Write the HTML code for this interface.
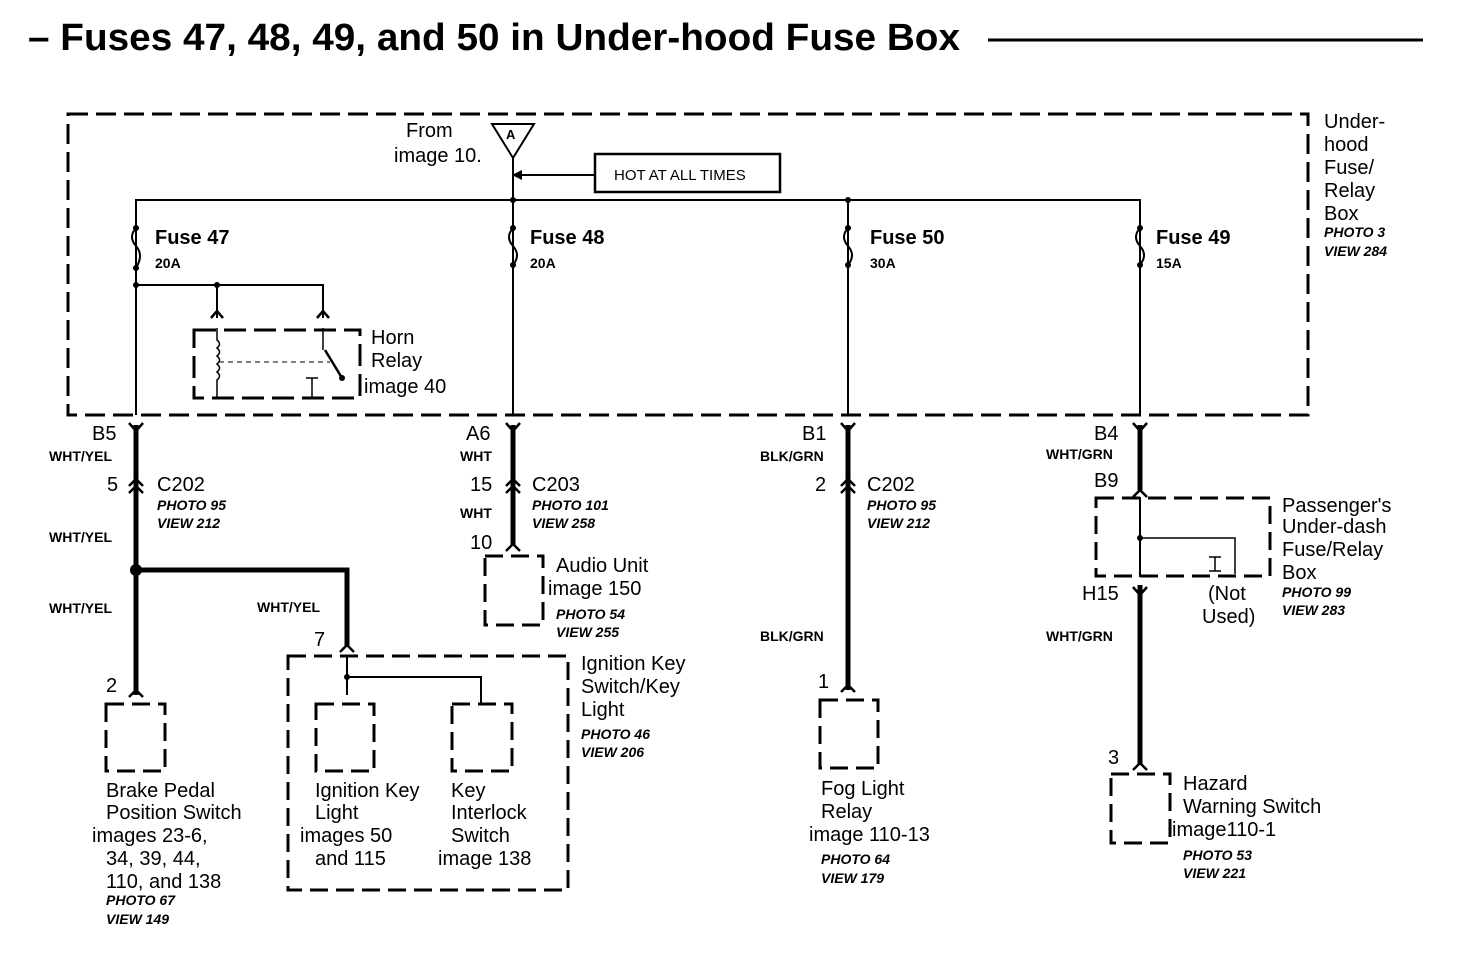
<!DOCTYPE html>
<html><head><meta charset="utf-8"><style>
html,body{margin:0;padding:0;background:#fff;}
svg{display:block;font-family:"Liberation Sans",sans-serif;}
.t{font-size:20px;fill:#000;}
.b{font-size:14px;font-weight:bold;fill:#000;}
.i{font-size:14px;font-weight:bold;font-style:italic;fill:#000;}
.fu{font-size:20px;font-weight:bold;fill:#000;}
</style></head><body>
<svg width="1472" height="956" viewBox="0 0 1472 956" xmlns="http://www.w3.org/2000/svg">
<text x="28" y="50" textLength="932" lengthAdjust="spacingAndGlyphs" style="font-size:38px;font-weight:bold">– Fuses 47, 48, 49, and 50 in Under-hood Fuse Box</text>
<line x1="988" y1="40" x2="1423" y2="40" stroke="#000" stroke-width="3"/>

<g fill="none" stroke="#000">
<rect x="68" y="114" width="1240" height="301" stroke-width="3" stroke-dasharray="20 8"/>
<polyline points="136,415 136,200 1140,200 1140,415" stroke-width="2"/>
<line x1="513" y1="158" x2="513" y2="415" stroke-width="2"/>
<line x1="848" y1="200" x2="848" y2="415" stroke-width="2"/>
<polygon points="492,124 534,124 513,158" stroke-width="2"/>
<line x1="595" y1="175" x2="522" y2="175" stroke-width="2"/>
<rect x="595" y="154" width="185" height="38" stroke-width="2.5"/>
<polyline points="136,285 323,285 323,318" stroke-width="2"/>
<line x1="217" y1="285" x2="217" y2="318" stroke-width="2"/>
<rect x="194" y="330" width="166" height="68" stroke-width="3" stroke-dasharray="22 8"/>
<path d="M217,328 v12 q5,4 0,8 q5,4 0,8 q5,4 0,8 q5,4 0,8 q5,4 0,8 v18" stroke-width="1.5"/>
<line x1="219" y1="362" x2="330" y2="362" stroke-width="1" stroke-dasharray="5 4"/>
<line x1="325" y1="350" x2="342" y2="378" stroke-width="2.5"/>
<line x1="312" y1="378" x2="312" y2="398" stroke-width="1.5"/>
<line x1="306" y1="378" x2="318" y2="378" stroke-width="1.5"/>
<line x1="323" y1="328" x2="323" y2="350" stroke-width="1.5"/>
<g stroke-width="5">
<line x1="136" y1="425" x2="136" y2="695"/>
<polyline points="136,570 347,570 347,647"/>
<line x1="513" y1="425" x2="513" y2="545"/>
<line x1="848" y1="425" x2="848" y2="690"/>
<line x1="1140" y1="425" x2="1140" y2="490"/>
<line x1="1140" y1="585" x2="1140" y2="765"/>
</g>
<g stroke-width="2.5">
<path d="M129,423 L136,431 L143,423"/><path d="M506,423 L513,431 L520,423"/>
<path d="M841,423 L848,431 L855,423"/><path d="M1133,423 L1140,431 L1147,423"/>
<path d="M1133,587 L1140,595 L1147,587"/>
<path d="M129,486 L136,479 L143,486"/><path d="M129,493 L136,486 L143,493"/>
<path d="M506,486 L513,479 L520,486"/><path d="M506,493 L513,486 L520,493"/>
<path d="M841,486 L848,479 L855,486"/><path d="M841,493 L848,486 L855,493"/>
<path d="M129,697 L136,690 L143,697"/><path d="M506,551 L513,544 L520,551"/>
<path d="M340,652 L347,645 L354,652"/><path d="M841,692 L848,685 L855,692"/>
<path d="M1133,770 L1140,763 L1147,770"/><path d="M1133,497 L1140,490 L1147,497"/>
<path d="M211,318 L217,311 L223,318"/><path d="M317,318 L323,311 L329,318"/>
</g>
<g stroke-width="3" stroke-dasharray="18 8">
<rect x="106" y="704" width="59" height="67"/>
<rect x="485" y="556" width="58" height="69"/>
<rect x="288" y="656" width="280" height="234"/>
<rect x="316" y="704" width="58" height="67"/>
<rect x="452" y="704" width="60" height="67"/>
<rect x="820" y="700" width="58" height="68"/>
<rect x="1111" y="774" width="59" height="69"/>
<rect x="1096" y="498" width="174" height="78"/>
</g>
<line x1="347" y1="656" x2="347" y2="695" stroke-width="2"/>
<polyline points="347,677 481,677 481,704" stroke-width="2"/>
<line x1="1140" y1="497" x2="1140" y2="577" stroke-width="2"/>
<polyline points="1140,538 1235,538 1235,574" stroke-width="1.5"/>
<path d="M1209,557 h12 M1215,557 v14 M1209,571 h12" stroke-width="1.5"/>
</g>
<g fill="#000">
<circle cx="513" cy="200" r="3"/><circle cx="848" cy="200" r="3"/><circle cx="136" cy="285" r="3"/><circle cx="217" cy="285" r="3"/>
<circle cx="136" cy="570" r="6"/><circle cx="347" cy="677" r="3"/><circle cx="1140" cy="538" r="3"/><circle cx="342" cy="378" r="3"/>
<polygon points="522,170 522,180 512,175"/>
</g>
<g fill="none" stroke="#000" stroke-width="2">
<path d="M136,228 q-8,9 0,18 q8,9 0,22"/>
<path d="M513,228 q-8,9 0,18 q8,9 0,19"/>
<path d="M848,228 q-8,9 0,18 q8,9 0,19"/>
<path d="M1140,228 q-8,9 0,18 q8,9 0,19"/>
</g>
<g fill="#000"><circle cx="136" cy="228" r="3"/><circle cx="136" cy="268" r="3"/><circle cx="513" cy="228" r="3"/><circle cx="513" cy="265" r="3"/><circle cx="848" cy="228" r="3"/><circle cx="848" cy="265" r="3"/><circle cx="1140" cy="228" r="3"/><circle cx="1140" cy="265" r="3"/></g>

<text x="506" y="139" style="font-size:13px;font-weight:bold">A</text>
<text class="t" x="406" y="137">From</text><text class="t" x="394" y="162">image 10.</text>
<text x="614" y="180" style="font-size:15px">HOT AT ALL TIMES</text>
<text class="fu" x="155" y="244">Fuse 47</text><text class="b" x="155" y="268">20A</text>
<text class="fu" x="530" y="244">Fuse 48</text><text class="b" x="530" y="268">20A</text>
<text class="fu" x="870" y="244">Fuse 50</text><text class="b" x="870" y="268">30A</text>
<text class="fu" x="1156" y="244">Fuse 49</text><text class="b" x="1156" y="268">15A</text>
<text class="t" x="371" y="344">Horn</text><text class="t" x="371" y="367">Relay</text><text class="t" x="364" y="393">image 40</text>
<text class="t" x="1324" y="128">Under-</text><text class="t" x="1324" y="151">hood</text><text class="t" x="1324" y="174">Fuse/</text><text class="t" x="1324" y="197">Relay</text><text class="t" x="1324" y="220">Box</text>
<text class="i" x="1324" y="237">PHOTO 3</text><text class="i" x="1324" y="256">VIEW 284</text>

<text class="t" x="92" y="440">B5</text><text class="b" x="49" y="461">WHT/YEL</text>
<text class="t" x="107" y="491">5</text><text class="t" x="157" y="491">C202</text>
<text class="i" x="157" y="510">PHOTO 95</text><text class="i" x="157" y="528">VIEW 212</text>
<text class="b" x="49" y="542">WHT/YEL</text><text class="b" x="49" y="613">WHT/YEL</text>
<text class="t" x="106" y="692">2</text>
<text class="t" x="106" y="797">Brake Pedal</text><text class="t" x="106" y="819">Position Switch</text>
<text class="t" x="92" y="842">images 23-6,</text><text class="t" x="106" y="865">34, 39, 44,</text><text class="t" x="106" y="888">110, and 138</text>
<text class="i" x="106" y="905">PHOTO 67</text><text class="i" x="106" y="924">VIEW 149</text>

<text class="b" x="257" y="612">WHT/YEL</text><text class="t" x="314" y="646">7</text>
<text class="t" x="315" y="797">Ignition Key</text><text class="t" x="315" y="819">Light</text><text class="t" x="300" y="842">images 50</text><text class="t" x="315" y="865">and 115</text>
<text class="t" x="451" y="797">Key</text><text class="t" x="451" y="819">Interlock</text><text class="t" x="451" y="842">Switch</text><text class="t" x="438" y="865">image 138</text>
<text class="t" x="581" y="670">Ignition Key</text><text class="t" x="581" y="693">Switch/Key</text><text class="t" x="581" y="716">Light</text>
<text class="i" x="581" y="739">PHOTO 46</text><text class="i" x="581" y="757">VIEW 206</text>

<text class="t" x="466" y="440">A6</text><text class="b" x="460" y="461">WHT</text>
<text class="t" x="470" y="491">15</text><text class="t" x="532" y="491">C203</text>
<text class="i" x="532" y="510">PHOTO 101</text><text class="i" x="532" y="528">VIEW 258</text>
<text class="b" x="460" y="518">WHT</text><text class="t" x="470" y="549">10</text>
<text class="t" x="556" y="572">Audio Unit</text><text class="t" x="548" y="595">image 150</text>
<text class="i" x="556" y="619">PHOTO 54</text><text class="i" x="556" y="637">VIEW 255</text>

<text class="t" x="802" y="440">B1</text><text class="b" x="760" y="461">BLK/GRN</text>
<text class="t" x="815" y="491">2</text><text class="t" x="867" y="491">C202</text>
<text class="i" x="867" y="510">PHOTO 95</text><text class="i" x="867" y="528">VIEW 212</text>
<text class="b" x="760" y="641">BLK/GRN</text><text class="t" x="818" y="688">1</text>
<text class="t" x="821" y="795">Fog Light</text><text class="t" x="821" y="818">Relay</text><text class="t" x="809" y="841">image 110-13</text>
<text class="i" x="821" y="864">PHOTO 64</text><text class="i" x="821" y="883">VIEW 179</text>

<text class="t" x="1094" y="440">B4</text><text class="b" x="1046" y="459">WHT/GRN</text>
<text class="t" x="1094" y="487">B9</text><text class="t" x="1082" y="600">H15</text>
<text class="b" x="1046" y="641">WHT/GRN</text><text class="t" x="1108" y="764">3</text>
<text class="t" x="1282" y="512">Passenger's</text><text class="t" x="1282" y="533">Under-dash</text><text class="t" x="1282" y="556">Fuse/Relay</text><text class="t" x="1282" y="579">Box</text>
<text class="i" x="1282" y="597">PHOTO 99</text><text class="i" x="1282" y="615">VIEW 283</text>
<text class="t" x="1208" y="600">(Not</text><text class="t" x="1202" y="623">Used)</text>
<text class="t" x="1183" y="790">Hazard</text><text class="t" x="1183" y="813">Warning Switch</text><text class="t" x="1172" y="836">image110-1</text>
<text class="i" x="1183" y="860">PHOTO 53</text><text class="i" x="1183" y="878">VIEW 221</text>
</svg>
</body></html>
